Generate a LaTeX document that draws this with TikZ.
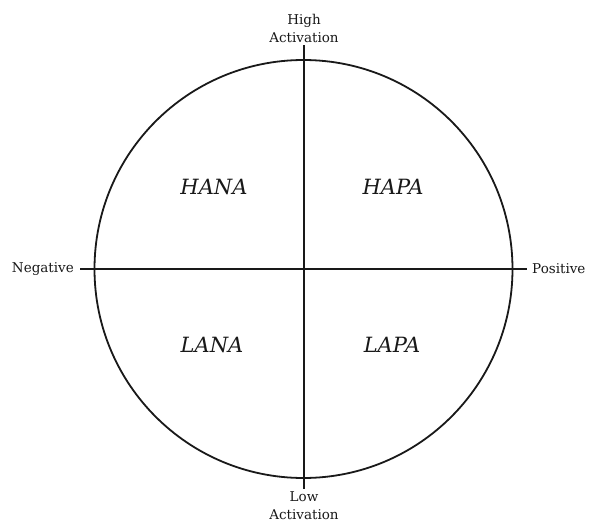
\documentclass[tikz,border=0pt]{standalone}
\usepackage{fontspec}
\setmainfont{DejaVu Serif}
\begin{document}
\begin{tikzpicture}[x=1pt,y=-1pt,
  axis/.style={line width=1.8pt,black!90},
  lbl/.style={font=\fontsize{13.5}{18}\selectfont, align=center, inner sep=0pt, text=black!90},
  quad/.style={font=\fontsize{21}{22}\selectfont\itshape, inner sep=0pt, text=black!90}]
\useasboundingbox (0,0) rectangle (589,525);
\fill[white] (0,0) rectangle (589,525);
\node[draw, axis, circle, minimum size=418pt, inner sep=0pt] (c) at (303.5,269) {};
\coordinate (l) at (80,269);
\coordinate (r) at (527,269);
\coordinate (t) at (304,45);
\coordinate (b) at (304,489);
\draw[axis] (l) -- (r);
\draw[axis] (t) -- (b);
\node[lbl, anchor=south] (high) at (304,43) {High\\Activation};
\node[lbl, anchor=north] (low) at (304,491) {Low\\Activation};
\node[lbl, anchor=east] (neg) at (74,269) {Negative};
\node[lbl, anchor=west] (pos) at (532,269) {Positive};
\node[quad] (hana) at (214,187) {HANA};
\node[quad] (hapa) at (393,187) {HAPA};
\node[quad] (lana) at (212,345) {LANA};
\node[quad] (lapa) at (392,345) {LAPA};
\end{tikzpicture}
\end{document}
